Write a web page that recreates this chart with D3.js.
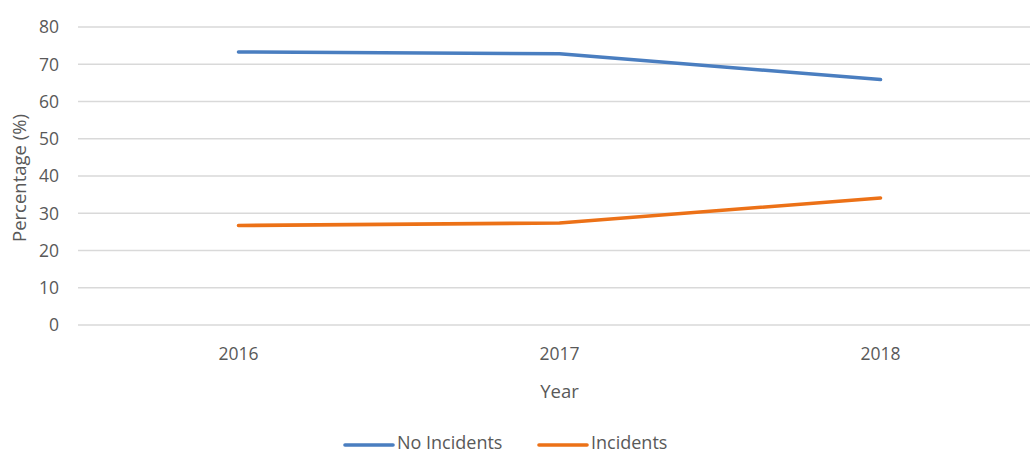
<!DOCTYPE html>
<html><head><meta charset="utf-8">
<script src="https://cdn.jsdelivr.net/npm/d3@7"></script>
<style>body{margin:0;background:#fff}svg{display:block}text{font-family:"Open Sans",sans-serif;fill:#595959}</style>
</head><body><svg id="c" width="1030" height="454"></svg>
<script>
const years = ["2016","2017","2018"];
const noIncidents = [73.3, 72.8, 65.9];
const incidents = [26.7, 27.4, 34.1];
const yTicks = [0,10,20,30,40,50,60,70,80];
const seriesNames = ["No Incidents","Incidents"];
const colors = ["#4A7EC0","#EC7117"];

(function(){
const svg = d3.select("#c");
const pLeft = 78, pRight = 1041, pTop = 27, pBottom = 325;
const x = d3.scalePoint().domain(years).range([pLeft, pRight]).padding(0.5);
const y = d3.scaleLinear().domain([0,80]).range([pBottom, pTop]);

svg.append("g").selectAll("line").data(yTicks).join("line")
  .attr("x1", pLeft).attr("x2", 1030)
  .attr("y1", d=>y(d)).attr("y2", d=>y(d))
  .attr("stroke", "#d9d9d9").attr("stroke-width", 1.3);

svg.append("g").selectAll("text").data(yTicks).join("text")
  .attr("x", 59).attr("y", d=>y(d)).attr("dy","0.36em")
  .attr("text-anchor","end").style("font-size","17.5px").text(d=>d);

svg.append("g").selectAll("text").data(years).join("text")
  .attr("x", d=>x(d)).attr("y", 354).attr("dy","0.36em").attr("text-anchor","middle")
  .style("font-size","17.5px").text(d=>d);

svg.append("text").attr("x", x("2017")).attr("y", 391).attr("dy","0.36em").attr("text-anchor","middle")
  .style("font-size","18.5px").text("Year");

svg.append("text").attr("transform","translate(19,178) rotate(-90)").attr("dy","0.36em")
  .attr("text-anchor","middle").style("font-size","18.5px").text("Percentage (%)");

const line = d3.line().x((d,i)=>x(years[i])).y(d=>y(d));
[noIncidents, incidents].forEach((s,i)=>{
  svg.append("path").attr("d", line(s)).attr("fill","none")
    .attr("stroke", colors[i]).attr("stroke-width", 3.6)
    .attr("stroke-linecap","round").attr("stroke-linejoin","round");
});

const lx = [345, 539];
seriesNames.forEach((n,i)=>{
  svg.append("line").attr("x1", lx[i]).attr("x2", lx[i]+48).attr("y1",445).attr("y2",445)
    .attr("stroke", colors[i]).attr("stroke-width",3.6).attr("stroke-linecap","round");
  svg.append("text").attr("x", lx[i]+52).attr("y",449)
    .style("font-size","18px").text(n);
});
})();
</script></body></html>
